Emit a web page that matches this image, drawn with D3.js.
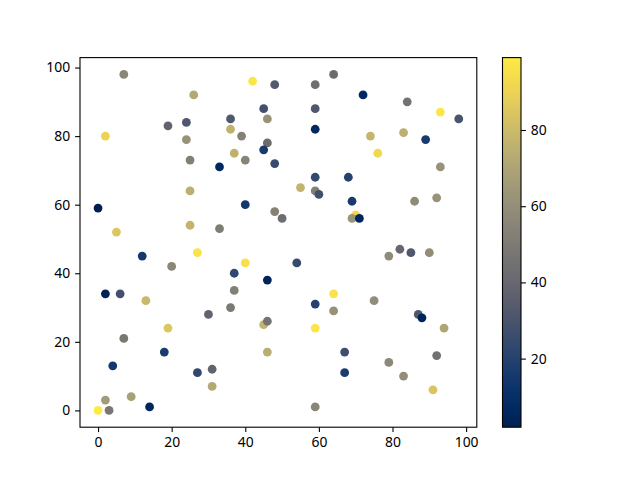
<!DOCTYPE html>
<html>
<head>
<meta charset="utf-8">
<script src="https://cdn.jsdelivr.net/npm/d3@7"></script>
<style>
  body { margin: 0; background: #fff; }
  svg text { font-family: "Noto Sans", "DejaVu Sans", sans-serif; font-size: 13.9px; fill: #000; }
</style>
</head>
<body>
<svg id="chart" width="640" height="480"></svg>
<script>
// point positions and colour values
var xs = [7, 42, 48, 59, 64, 72, 26, 84, 93, 98,
          2, 19, 24, 24, 25, 36, 36, 39, 46, 45,
          46, 45, 37, 40, 48, 33, 59, 59, 74, 76,
          83, 89, 93, 59, 68, 55, 59, 60, 69, 70,
          69, 71, 86, 92, 0, 25, 25, 33, 40, 48,
          50, 5, 12, 27, 20, 40, 37, 46, 54, 2,
          6, 13, 37, 36, 45, 46, 46, 30, 19, 7,
          18, 27, 31, 31, 4, 9, 2, 3, 0, 14,
          59, 64, 64, 59, 67, 67, 75, 79, 82, 85,
          90, 87, 88, 94, 92, 79, 83, 91, 59];

var ys = [98, 96, 95, 95, 98, 92, 92, 90, 87, 85,
          80, 83, 84, 79, 73, 85, 82, 80, 85, 88,
          78, 76, 75, 73, 72, 71, 88, 82, 80, 75,
          81, 79, 71, 68, 68, 65, 64, 63, 61, 57,
          56, 56, 61, 62, 59, 64, 54, 53, 60, 58,
          56, 52, 45, 46, 42, 43, 40, 38, 43, 34,
          34, 32, 35, 30, 25, 26, 17, 28, 24, 21,
          17, 11, 12, 7, 13, 4, 3, 0, 0, 1,
          31, 34, 29, 24, 17, 11, 32, 45, 47, 46,
          46, 28, 27, 24, 16, 14, 10, 6, 1];

var cs = [55, 97, 33, 44, 42, 7, 72, 46, 97, 30,
          90, 38, 32, 62, 52, 32, 76, 53, 62, 28,
          42, 16, 76, 54, 25, 7, 32, 7, 78, 92,
          75, 16, 62, 24, 20, 77, 52, 28, 16, 92,
          63, 5, 58, 62, 2, 75, 77, 51, 15, 53,
          43, 85, 15, 96, 56, 95, 23, 4, 25, 3,
          28, 79, 52, 49, 77, 46, 74, 38, 85, 48,
          17, 23, 38, 72, 15, 68, 66, 48, 99, 5,
          20, 96, 61, 97, 27, 17, 59, 58, 40, 32,
          59, 32, 4, 71, 45, 57, 59, 84, 55];

var xTicks = [0, 20, 40, 60, 80, 100];
var yTicks = [0, 20, 40, 60, 80, 100];
var cTicks = [20, 40, 60, 80];

var svg = d3.select('#chart');

var margin = { left: 80, top: 57.6, right: 476.8, bottom: 427.2 };

var points = d3.range(xs.length).map(function (i) {
    return { x: xs[i], y: ys[i], c: cs[i] };
});

// matplotlib style 5% padding on the data range
function padded(ext) {
    var p = (ext[1] - ext[0]) * 0.05;
    return [ext[0] - p, ext[1] + p];
}

var x = d3.scaleLinear()
    .domain(padded(d3.extent(xs)))
    .range([margin.left, margin.right]);

var y = d3.scaleLinear()
    .domain(padded(d3.extent(ys)))
    .range([margin.bottom, margin.top]);

var cExt = d3.extent(cs);
var color = d3.scaleSequential(d3.interpolateCividis).domain(cExt);

svg.append('g')
    .selectAll('circle')
    .data(points)
    .enter()
    .append('circle')
        .attr('cx', function (d) { return x(d.x); })
        .attr('cy', function (d) { return y(d.y); })
        .attr('r', 4.4)
        .attr('fill', function (d) { return color(d.c); });

// axes
var xAxis = svg.append('g')
    .attr('transform', 'translate(0,' + margin.bottom + ')')
    .call(d3.axisBottom(x).tickValues(xTicks).tickSize(4.9).tickPadding(4.9));

var yAxis = svg.append('g')
    .attr('transform', 'translate(' + margin.left + ',0)')
    .call(d3.axisLeft(y).tickValues(yTicks).tickSize(4.9).tickPadding(4.9));

[xAxis, yAxis].forEach(function (g) {
    g.select('.domain').remove();
    g.selectAll('line').attr('stroke', '#000').attr('stroke-width', 1.1);
    g.selectAll('text').attr('font-family', null).attr('font-size', null);
});

svg.append('rect')
    .attr('x', margin.left)
    .attr('y', margin.top)
    .attr('width', margin.right - margin.left)
    .attr('height', margin.bottom - margin.top)
    .attr('fill', 'none')
    .attr('stroke', '#000')
    .attr('stroke-width', 1.1);

// colour bar
var cb = { left: 502.5, width: 18.5 };

var c = d3.scaleLinear()
    .domain(cExt)
    .range([margin.bottom, margin.top]);

var grad = svg.append('defs')
    .append('linearGradient')
        .attr('id', 'cbgrad')
        .attr('x1', 0).attr('y1', 1)
        .attr('x2', 0).attr('y2', 0);

grad.selectAll('stop')
    .data(d3.range(0, 1.0001, 0.05))
    .enter()
    .append('stop')
        .attr('offset', function (t) { return t; })
        .attr('stop-color', function (t) { return d3.interpolateCividis(t); });

svg.append('rect')
    .attr('x', cb.left)
    .attr('y', margin.top)
    .attr('width', cb.width)
    .attr('height', margin.bottom - margin.top)
    .attr('fill', 'url(#cbgrad)')
    .attr('stroke', '#000')
    .attr('stroke-width', 1.1);

var cAxis = svg.append('g')
    .attr('transform', 'translate(' + (cb.left + cb.width) + ',0)')
    .call(d3.axisRight(c).tickValues(cTicks).tickSize(4.9).tickPadding(4.9));

cAxis.select('.domain').remove();
cAxis.selectAll('line').attr('stroke', '#000').attr('stroke-width', 1.1);
cAxis.selectAll('text').attr('font-family', null).attr('font-size', null);
</script>
</body>
</html>
